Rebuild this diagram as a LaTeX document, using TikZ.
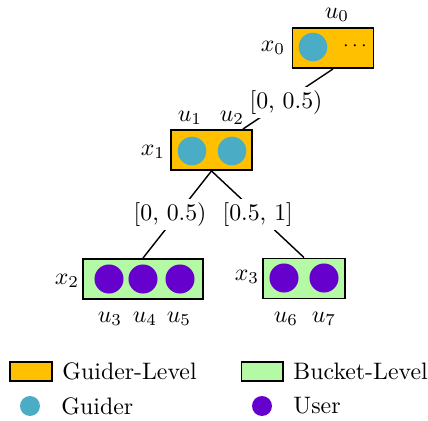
\documentclass[tikz,border=0pt]{standalone}
\usetikzlibrary{positioning}
\definecolor{GuiderOrange}{RGB}{255,192,0}
\definecolor{GuiderCyan}{RGB}{75,172,198}
\definecolor{BucketGreen}{RGB}{180,250,165}
\definecolor{UserPurple}{RGB}{102,0,204}
\tikzset{
  link/.style={semithick,draw=black},
  guiderbox/.style={draw=black,thick,fill=GuiderOrange,minimum width=34pt,
    minimum height=16.8pt,inner sep=0pt},
  bucketbox/.style={draw=black,thick,fill=BucketGreen,minimum height=16.8pt,
    inner sep=0pt},
  guiderdot/.style={circle,fill=GuiderCyan,minimum size=12pt,inner sep=0pt},
  userdot/.style={circle,fill=UserPurple,minimum size=12.2pt,inner sep=0pt},
  rangelabel/.style={fill=white,inner sep=1.5pt},
  keybox/.style={draw=black,thick,minimum width=17.6pt,minimum height=8pt,inner sep=0pt},
  keytext/.style={anchor=west,inner sep=0pt}
}

\begin{document}
\begin{tikzpicture}[x=0.42pt,y=-0.42pt]
  \useasboundingbox (0,0) rectangle (428,421);
  % tree
  \node[guiderbox] (x0) at (333,48) {};
  \node[guiderbox] (x1) at (211.5,150) {};
  \node[bucketbox,minimum width=50.4pt] (x2) at (143,279) {};
  \node[bucketbox,minimum width=34.4pt] (x3) at (304,278.5) {};
  \draw[link] (x0.south) -- node[rangelabel,xshift=-0.8pt,yshift=-1.5pt] {[0, 0.5)} (x1);
  \draw[link] (x1.south) -- node[rangelabel,xshift=-3pt] {[0, 0.5)} (x2.north);
  \draw[link] (x1.south) -- node[rangelabel] {[0.5, 1]} (x3.north);
  % members
  \node[guiderdot] (g0) at (313,47) {};
  \node[font=\footnotesize] (more) at (355,46) {$\cdots$};
  \node[guiderdot] (g1) at (192,151) {};
  \node[guiderdot] (g2) at (232,151) {};
  \node[userdot] (v3) at (109,279) {};
  \node[userdot] (v4) at (143,279) {};
  \node[userdot] (v5) at (180,279) {};
  \node[userdot] (v6) at (284,278) {};
  \node[userdot] (v7) at (324,278) {};
  % labels
  \node (lx0) at (273,48) {$x_0$};
  \node (lx1) at (153,152) {$x_1$};
  \node (lx2) at (67,281) {$x_2$};
  \node (lx3) at (247,277) {$x_3$};
  \node (lu0) at (337,15) {$u_0$};
  \node (lu1) at (190,118) {$u_1$};
  \node (lu2) at (232,118) {$u_2$};
  \node (lu3) at (110,319) {$u_3$};
  \node (lu4) at (145,319) {$u_4$};
  \node (lu5) at (179,319) {$u_5$};
  \node (lu6) at (286,319) {$u_6$};
  \node (lu7) at (324,319) {$u_7$};
  % legend
  \node[keybox,fill=GuiderOrange] (kg) at (31,371.5) {};
  \node[keytext] (kgt) at (62,371) {Guider-Level};
  \node[keybox,fill=BucketGreen] (kb) at (262.5,371.5) {};
  \node[keytext] (kbt) at (293,371) {Bucket-Level};
  \node[guiderdot,minimum size=8.4pt] (kd) at (30,406) {};
  \node[keytext] (kdt) at (61,406) {Guider};
  \node[userdot,minimum size=8.4pt] (ku) at (262,406) {};
  \node[keytext] (kut) at (293,406) {User};
\end{tikzpicture}
\end{document}
